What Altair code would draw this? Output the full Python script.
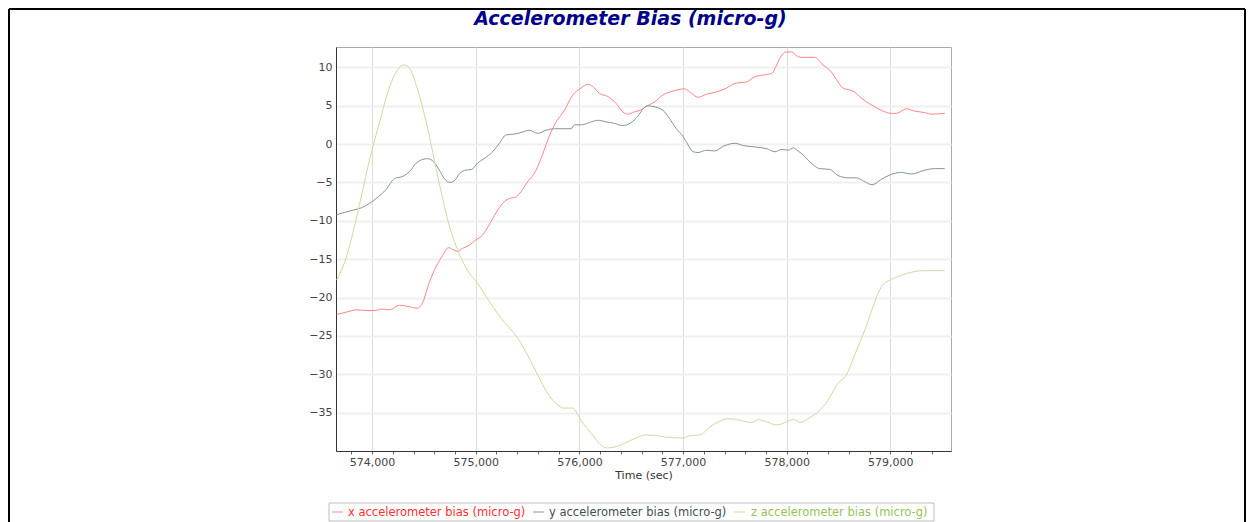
import altair as alt
import pandas as pd

# ---------------- data ----------------
series_names = [
    "x accelerometer bias (micro-g)",
    "y accelerometer bias (micro-g)",
    "z accelerometer bias (micro-g)",
]

t_x = [573658, 573754, 573850, 573946, 574026, 574089, 574169, 574265, 574361, 574441,
       574489, 574553, 574617, 574681, 574738, 574776, 574824, 574872, 574936, 575000,
       575064, 575147, 575212, 575276, 575324, 575389, 575437, 575501, 575566, 575630,
       575694, 575759, 575855, 575936, 576016, 576080, 576129, 576193, 576273, 576354,
       576418, 576466, 576531, 576600, 576645, 576726, 576806, 576903, 577016, 577081,
       577145, 577226, 577323, 577419, 577500, 577613, 577694, 577774, 577855, 577903,
       577952, 578000, 578048, 578097, 578140, 578270, 578350, 578431, 578495, 578543,
       578640, 578720, 578817, 578913, 579010, 579058, 579154, 579235, 579331, 579396,
       579524]
x_bias = [-22.2, -21.9, -21.6, -21.7, -21.7, -21.5, -21.6, -21.0, -21.2, -21.4,
          -20.6, -18.0, -16.0, -14.5, -13.5, -13.7, -14.0, -13.6, -13.2, -12.5,
          -11.9, -10.1, -8.6, -7.5, -7.1, -6.9, -6.2, -4.9, -3.8, -1.9,
          0.5, 2.5, 4.4, 6.4, 7.3, 7.8, 7.5, 6.6, 6.2, 5.3,
          4.2, 3.9, 4.2, 4.5, 4.9, 5.5, 6.4, 6.9, 7.2, 6.6,
          6.1, 6.5, 6.8, 7.3, 7.9, 8.1, 8.8, 9.0, 9.2, 10.3,
          11.6, 12.0, 12.0, 11.5, 11.3, 11.3, 10.3, 9.4, 8.1, 7.3,
          6.9, 6.0, 5.1, 4.4, 4.0, 4.0, 4.6, 4.3, 4.1, 3.9,
          4.0]

t_y = [573658, 573738, 573818, 573898, 573978, 574058, 574137, 574217, 574297, 574361,
       574425, 574489, 574537, 574601, 574649, 574697, 574751, 574792, 574847, 574904,
       574962, 575016, 575080, 575163, 575228, 575292, 575373, 575437, 575517, 575598,
       575678, 575759, 575855, 575920, 575952, 576016, 576097, 576177, 576257, 576338,
       576418, 576498, 576563, 576621, 576661, 576710, 576806, 576871, 576935, 577000,
       577048, 577097, 577145, 577226, 577306, 577387, 577500, 577581, 577710, 577806,
       577887, 577952, 578016, 578065, 578100, 578157, 578238, 578318, 578415, 578495,
       578592, 578672, 578752, 578823, 578913, 579000, 579106, 579203, 579331, 579428,
       579524]
y_bias = [-9.2, -8.9, -8.6, -8.3, -7.7, -6.9, -5.9, -4.5, -4.2, -3.6,
          -2.5, -2.0, -1.9, -2.4, -3.4, -4.5, -5.0, -4.8, -3.8, -3.4,
          -3.3, -2.5, -1.9, -1.0, 0.1, 1.2, 1.3, 1.5, 1.8, 1.4,
          1.8, 2.0, 2.0, 2.0, 2.5, 2.5, 2.8, 3.1, 2.9, 2.7,
          2.4, 2.8, 3.6, 4.7, 5.0, 4.9, 4.4, 3.3, 2.0, 1.0,
          -0.1, -1.0, -1.1, -0.8, -0.9, -0.3, 0.1, -0.2, -0.4, -0.6,
          -1.0, -0.7, -0.8, -0.5, -0.8, -1.4, -2.5, -3.2, -3.3, -4.1,
          -4.4, -4.4, -4.9, -5.3, -4.6, -4.0, -3.7, -3.9, -3.4, -3.2,
          -3.2]

t_z = [573658, 573738, 573818, 573898, 573978, 574073, 574153, 574233, 574304, 574361,
       574425, 574489, 574553, 574617, 574681, 574744, 574808, 574872, 574936, 575010,
       575083, 575244, 575405, 575501, 575598, 575694, 575791, 575839, 575936, 575968,
       576016, 576113, 576193, 576257, 576338, 576434, 576531, 576645, 576742, 576839,
       577000, 577065, 577161, 577258, 577355, 577435, 577516, 577613, 577661, 577726,
       577806, 577903, 578000, 578065, 578134, 578205, 578301, 578398, 578494, 578575,
       578655, 578752, 578849, 578913, 579000, 579106, 579203, 579331, 579524]
z_bias = [-17.7, -15.3, -11.4, -6.7, -1.9, 2.9, 6.8, 9.4, 10.3, 9.9,
          7.7, 4.7, 1.0, -3.2, -7.1, -10.6, -13.2, -15.2, -16.8, -18.0,
          -19.5, -22.7, -25.3, -27.5, -30.1, -32.5, -34.0, -34.4, -34.4, -34.9,
          -36.0, -37.7, -39.0, -39.6, -39.5, -39.0, -38.4, -37.9, -38.0, -38.2,
          -38.3, -38.0, -37.9, -36.9, -36.1, -35.8, -35.9, -36.2, -36.3, -35.9,
          -36.2, -36.6, -36.2, -35.9, -36.3, -35.8, -34.9, -33.4, -31.2, -30.1,
          -27.5, -24.3, -20.6, -18.6, -17.7, -17.1, -16.7, -16.5, -16.5]

x_tick_values = list(range(573800, 579600, 200))
y_tick_values = [-35, -30, -25, -20, -15, -10, -5, 0, 5, 10]

title_text = "Accelerometer Bias (micro-g)"
x_title = "Time (sec)"

# ---------------- styling ----------------
line_colors = ["#ff8484", "#859595", "#c9dca2"]
label_colors = ["#ff2e2e", "#3e5050", "#98c255"]
FONT = "DejaVu Sans"

df = pd.concat([
    pd.DataFrame({"time": t_x, "bias": x_bias, "series": series_names[0]}),
    pd.DataFrame({"time": t_y, "bias": y_bias, "series": series_names[1]}),
    pd.DataFrame({"time": t_z, "bias": z_bias, "series": series_names[2]}),
], ignore_index=True)

W, H = 615, 404

x_scale = alt.Scale(domain=[573652, 579585], nice=False, zero=False)
y_scale = alt.Scale(domain=[-40.0, 12.65], nice=False, zero=False)

lines = alt.Chart(df).mark_line(strokeWidth=1, interpolate="monotone").encode(
    x=alt.X("time:Q", scale=x_scale, axis=alt.Axis(
        values=x_tick_values,
        title=x_title,
        labelExpr="datum.value % 1000 === 0 ? format(datum.value, ',') : ''",
        labelOverlap=False,
        labelFlush=False,
        gridOpacity={"condition": {"test": "datum.value % 1000 === 0", "value": 1}, "value": 0},
        gridColor="#dcdcdc", gridWidth=1,
        tickSize=3, tickColor="#666666",
        labelPadding=2, titlePadding=2,
        domainColor="#333333",
    )),
    y=alt.Y("bias:Q", scale=y_scale, axis=alt.Axis(
        values=y_tick_values, title=None, tickSize=0, labelPadding=4,
        gridColor="#f0f0f0", gridWidth=2, domainColor="#333333",
    )),
    color=alt.Color("series:N", scale=alt.Scale(domain=series_names, range=line_colors), legend=None),
)

one = pd.DataFrame({"k": [0]})

title = alt.Chart(one).mark_text(
    text=title_text, font=FONT, fontSize=19, fontWeight="bold", fontStyle="italic",
    color="#00008b", align="center", baseline="alphabetic",
).encode(x=alt.value(294.5), y=alt.value(-22))

frame = [
    alt.Chart(one).mark_rule(color="black", strokeWidth=2).encode(
        x=alt.value(-327), y=alt.value(-38), y2=alt.value(480)),
    alt.Chart(one).mark_rule(color="black", strokeWidth=2).encode(
        x=alt.value(-327), x2=alt.value(909), y=alt.value(-38)),
    alt.Chart(one).mark_rule(color="black", strokeWidth=2).encode(
        x=alt.value(909), y=alt.value(-38), y2=alt.value(480)),
]

legend_box = alt.Chart(one).mark_rect(fill="white", stroke="#bdbdbd", strokeWidth=1).encode(
    x=alt.value(-7), x2=alt.value(598), y=alt.value(456), y2=alt.value(474))

sym_x = [-4, 197, 398]
lab_x = [12, 213, 415]
legend_items = []
for i, name in enumerate(series_names):
    legend_items.append(alt.Chart(one).mark_rule(color=line_colors[i], strokeWidth=1).encode(
        x=alt.value(sym_x[i]), x2=alt.value(sym_x[i] + 11), y=alt.value(465)))
    legend_items.append(alt.Chart(pd.DataFrame({"label": [name]})).mark_text(
        font=FONT, fontSize=11.5, color=label_colors[i], align="left", baseline="middle",
    ).encode(x=alt.value(lab_x[i]), y=alt.value(465.5), text="label:N"))

chart = alt.layer(lines, title, legend_box, *legend_items, *frame).properties(
    width=W, height=H,
    padding={"left": 328, "top": 39, "right": 295, "bottom": 71},
    autosize=alt.AutoSizeParams(type="none"),
    background="white",
).configure_view(
    stroke="#aaaaaa", strokeWidth=1,
).configure_axis(
    labelFont=FONT, labelFontSize=11, labelColor="#444444",
    titleFont=FONT, titleFontSize=11, titleFontWeight="normal", titleColor="#333333",
)

chart.save("out.html", embed_options={"renderer": "svg", "actions": False})
